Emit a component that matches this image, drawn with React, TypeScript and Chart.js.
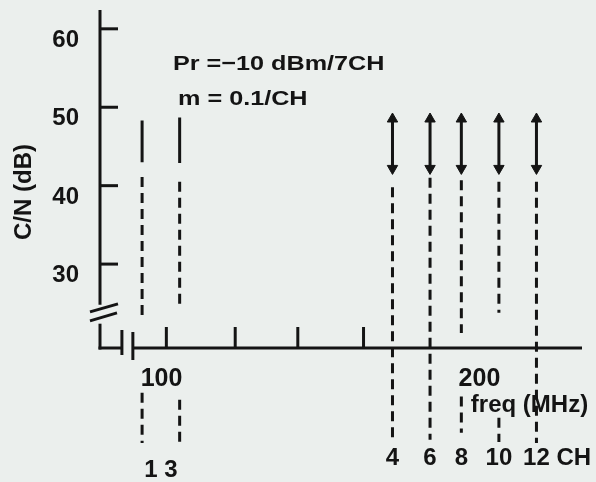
import React, { useEffect, useRef } from 'react';
import { Chart, registerables } from 'chart.js';

Chart.register(...registerables);

// ---- data ----
const channelNames = ['1', '3', '4', '6', '8', '10', '12'];
const channelFreqMHz = [91.25, 103.25, 171.25, 183.25, 193.25, 205.25, 217.25];
const rangeTopDb = [48.3, 48.7, 48.5, 48.5, 48.5, 48.5, 48.5];
const rangeBottomDb = [43.0, 42.9, 42.2, 42.2, 42.2, 42.2, 42.2];
const rangeIsArrow = [false, false, true, true, true, true, true];
const dashTopDb = [41.1, 40.5, 39.8, 41.0, 40.7, 40.5, 40.5];
const dashBottomDb = [22.9, 24.5, 7.6, 7.6, 21.2, 23.8, 7.2];
const lowerDashTopDb: (number | null)[] = [13.6, 12.7, null, null, 13.1, 10.4, null];
const lowerDashBottomDb: (number | null)[] = [7.2, 7.3, null, null, 8.5, 7.3, null];

const yTickValues = [30, 40, 50, 60];
const yTickLabels = ['30', '40', '50', '60'];
const xTickMarkValues = [99, 121, 141, 162];
const xLabelValues = [100, 200];
const xLabelTexts = ['100', '200'];

const xMin = 77.8;
const xMax = 231.8;
const yMin = 19.3;
const yMax = 62.4;
const yBreakTop = 24.8;
const yBreakBottom = 22.4;
const xBreakLeft = 84.8;
const xBreakRight = 88.3;

const annotationLine1 = 'Pr =\u221210 dBm/7CH';
const annotationLine2 = 'm = 0.1/CH';
const yTitle = 'C/N (dB)';
const xTitle = 'freq (MHz)';
const chUnit = 'CH';

const ink = '#141414';
const bg = '#ebefed';
const FONT = '"Liberation Sans", Arial, Helvetica, sans-serif';

function line(ctx: CanvasRenderingContext2D, x1: number, y1: number, x2: number, y2: number) {
  ctx.beginPath();
  ctx.moveTo(x1, y1);
  ctx.lineTo(x2, y2);
  ctx.stroke();
}

const axesPlugin = {
  id: 'customAxes',
  beforeDatasetsDraw(chart: any) {
    const { ctx, scales } = chart;
    const px = (v: number) => scales.x.getPixelForValue(v);
    const py = (v: number) => scales.y.getPixelForValue(v);
    const x0 = px(xMin);
    const yAxisPx = py(yMin);
    ctx.save();
    ctx.strokeStyle = ink;
    ctx.lineWidth = 3;
    ctx.lineCap = 'butt';
    // y axis (broken)
    line(ctx, x0, py(yMax), x0, py(yBreakTop));
    line(ctx, x0, py(yBreakBottom), x0, yAxisPx + 1.5);
    const yb = py(yBreakTop);
    line(ctx, x0 - 10, yb + 7, x0 + 18, yb - 1);
    line(ctx, x0 - 10, yb + 16, x0 + 17, yb + 8);
    // y ticks
    yTickValues.forEach((v) => line(ctx, x0, py(v), x0 + 18, py(v)));
    // x axis (broken)
    line(ctx, x0 - 1.5, yAxisPx, px(xBreakLeft), yAxisPx);
    line(ctx, px(xBreakRight), yAxisPx, px(xMax), yAxisPx);
    line(ctx, px(xBreakLeft), yAxisPx - 18, px(xBreakLeft), yAxisPx + 7);
    line(ctx, px(xBreakRight), yAxisPx - 16, px(xBreakRight), yAxisPx + 12);
    // x ticks
    xTickMarkValues.forEach((v) => line(ctx, px(v), yAxisPx, px(v), yAxisPx - 21));
    ctx.restore();
  },
  afterDraw(chart: any) {
    const { ctx, scales } = chart;
    const px = (v: number) => scales.x.getPixelForValue(v);
    const py = (v: number) => scales.y.getPixelForValue(v);
    const x0 = px(xMin);
    const yAxisPx = py(yMin);
    ctx.save();
    ctx.fillStyle = ink;
    ctx.textBaseline = 'alphabetic';
    // y tick labels
    ctx.font = `bold 24px ${FONT}`;
    ctx.textAlign = 'right';
    yTickValues.forEach((v, i) => ctx.fillText(yTickLabels[i], x0 - 21, py(v) + 18));
    // y title
    ctx.save();
    ctx.translate(31, 192);
    ctx.rotate(-Math.PI / 2);
    ctx.textAlign = 'center';
    ctx.font = `bold 24px ${FONT}`;
    ctx.fillText(yTitle, 0, 0);
    ctx.restore();
    // x labels
    ctx.font = `bold 25px ${FONT}`;
    ctx.textAlign = 'center';
    const xLabelShift = [-8, -3];
    xLabelValues.forEach((v, i) => ctx.fillText(xLabelTexts[i], px(v) + xLabelShift[i], yAxisPx + 38));
    // x title
    ctx.font = `bold 24px ${FONT}`;
    ctx.textAlign = 'center';
    ctx.fillText(xTitle, px(200) + 47, yAxisPx + 64);
    // channel labels
    ctx.font = `bold 24px ${FONT}`;
    ctx.textAlign = 'center';
    const c1 = px(channelFreqMHz[0]);
    const c3 = px(channelFreqMHz[1]);
    ctx.fillText(`${channelNames[0]} ${channelNames[1]}`, (c1 + c3) / 2, yAxisPx + 129);
    for (let i = 2; i < channelNames.length; i++) {
      ctx.fillText(channelNames[i], px(channelFreqMHz[i]), yAxisPx + 117);
    }
    ctx.textAlign = 'left';
    ctx.fillText(chUnit, px(channelFreqMHz[channelFreqMHz.length - 1]) + 20, yAxisPx + 117);
    // annotation
    ctx.font = `bold 21px ${FONT}`;
    ctx.save();
    ctx.translate(173, 70);
    ctx.scale(1.2, 1);
    ctx.fillText(annotationLine1, 0, 0);
    ctx.restore();
    ctx.save();
    ctx.translate(178, 105);
    ctx.scale(1.2, 1);
    ctx.fillText(annotationLine2, 0, 0);
    ctx.restore();
    ctx.restore();
  },
};

export default function App() {
  const canvasRef = useRef<HTMLCanvasElement | null>(null);

  useEffect(() => {
    if (!canvasRef.current) return;
    const datasets: any[] = [];
    channelFreqMHz.forEach((f, i) => {
      datasets.push({
        label: `CH${channelNames[i]} range`,
        data: [
          { x: f, y: rangeTopDb[i] },
          { x: f, y: rangeBottomDb[i] },
        ],
        borderColor: ink,
        borderWidth: 3,
        pointStyle: 'triangle',
        pointRadius: rangeIsArrow[i] ? 6 : 0,
        pointRotation: [0, 180],
        pointBackgroundColor: ink,
        pointBorderColor: ink,
        pointBorderWidth: 1,
      });
      datasets.push({
        label: `CH${channelNames[i]} dashed`,
        data: [
          { x: f, y: dashTopDb[i] },
          { x: f, y: dashBottomDb[i] },
        ],
        borderColor: ink,
        borderWidth: 3,
        borderDash: [10, 6],
        pointRadius: 0,
      });
      const lt = lowerDashTopDb[i];
      const lb = lowerDashBottomDb[i];
      if (lt !== null && lb !== null) {
        datasets.push({
          label: `CH${channelNames[i]} lower dashed`,
          data: [
            { x: f, y: lt },
            { x: f, y: lb },
          ],
          borderColor: ink,
          borderWidth: 3,
          borderDash: [10, 6],
          pointRadius: 0,
        });
      }
    });

    const chart = new Chart(canvasRef.current, {
      type: 'line',
      data: { datasets },
      options: {
        animation: false,
        responsive: false,
        maintainAspectRatio: false,
        devicePixelRatio: 1,
        layout: { padding: { left: 100, right: 14, top: 10, bottom: 134 } },
        plugins: { legend: { display: false }, tooltip: { enabled: false }, title: { display: false } },
        elements: { line: { tension: 0 } },
        scales: {
          x: { type: 'linear', min: xMin, max: xMax, display: false },
          y: { type: 'linear', min: yMin, max: yMax, display: false },
        },
        datasets: { line: { clip: false } as any },
      } as any,
      plugins: [axesPlugin],
    });
    return () => chart.destroy();
  }, []);

  return (
    <div
      style={{
        position: 'fixed',
        left: 0,
        top: 0,
        width: 596,
        height: 482,
        background: bg,
        overflow: 'hidden',
      }}
    >
      <canvas ref={canvasRef} width={596} height={482} style={{ display: 'block' }} />
    </div>
  );
}
